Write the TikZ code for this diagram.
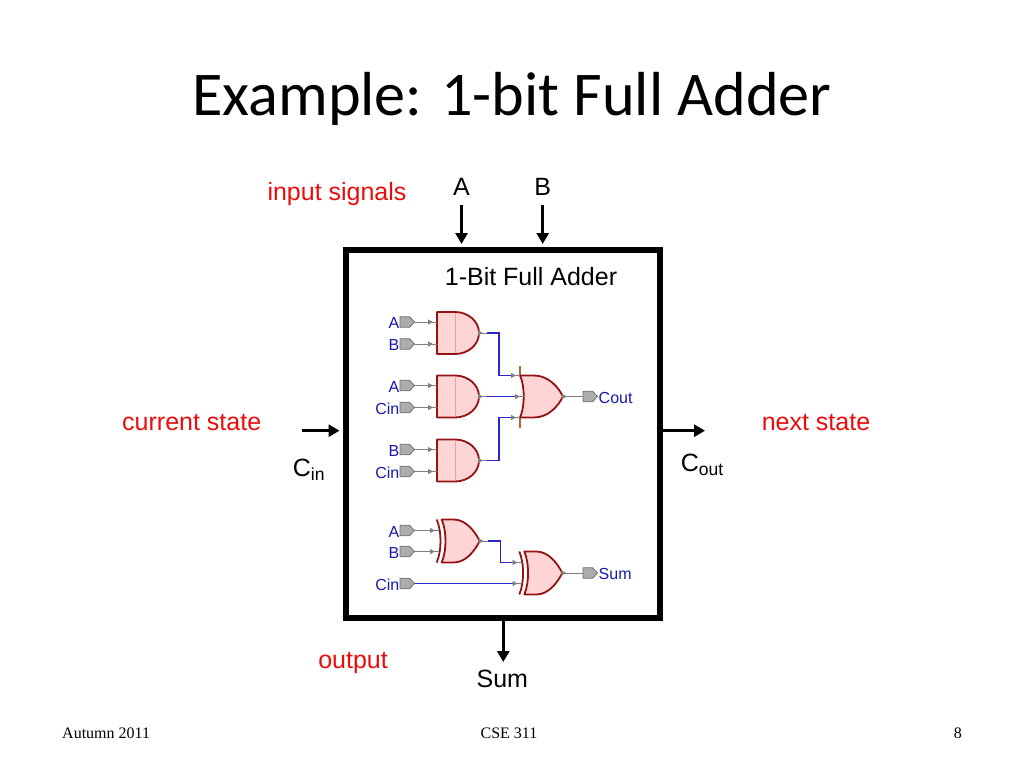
\documentclass[tikz,border=0pt]{standalone}
\usepackage{fontspec}
\setmainfont{Liberation Sans}
\newfontfamily\titlefont{Carlito}
\newfontfamily\footfont{Liberation Serif}
\usetikzlibrary{arrows.meta,calc,decorations.markings}
\definecolor{txtred}{RGB}{235,12,12}
\definecolor{txtblue}{RGB}{25,25,170}
\definecolor{wireblue}{RGB}{40,40,200}
\definecolor{wiregray}{RGB}{128,128,128}
\definecolor{gatefill}{RGB}{255,212,212}
\definecolor{gateline}{RGB}{150,18,18}
\definecolor{divcol}{RGB}{215,170,170}
\definecolor{barcol}{RGB}{180,100,45}
\definecolor{pinfill}{RGB}{172,172,172}
\definecolor{pinline}{RGB}{115,115,115}
\tikzset{
  lbl/.style={font=\fontsize{25}{30}\selectfont, inner sep=0pt},
  redlbl/.style={lbl, text=txtred},
  gl/.style={font=\fontsize{16}{19}\selectfont, text=txtblue, inner sep=0pt},
  foot/.style={font=\footfont\fontsize{16}{19}\selectfont, inner sep=0pt},
  bigarrow/.style={line width=3pt, -{Triangle[length=11pt,width=12pt]}},
  gatebody/.style={draw=gateline, fill=gatefill, line width=1.8pt, line join=round},
  gateonly/.style={draw=gateline, line width=1.8pt},
  divline/.style={draw=divcol, line width=0.6pt},
  barline/.style={draw=barcol, line width=1.6pt},
  pinstyle/.style={draw=pinline, fill=pinfill, line width=0.8pt, line join=round},
  bwire/.style={draw=wireblue, line width=1.1pt},
  gwire/.style={draw=wiregray, line width=1pt},
  inwire/.style={gwire, postaction={decorate},
    decoration={markings, mark=at position -4pt with {\arrow{Triangle[length=5pt,width=5pt]}}}},
  pics/andgate/.style={code={
    \path[gatebody] (0,-21) -- (18,-21) .. controls (31.3,-21) and (42,-11.6) .. (42,0)
      .. controls (42,11.6) and (31.3,21) .. (18,21) -- (0,21) -- cycle;
    \draw[divline] (18,-20) -- (18,20);
    \coordinate (-in1) at (0,-11);
    \coordinate (-in2) at (0,11);
    \coordinate (-out) at (42,0);
  }},
  pics/orgate/.style={code={
    \draw[barline] (0,-31) -- (0,-21) (0,21) -- (0,31);
    \path[gatebody] (0,-21) -- (14,-21) .. controls (28,-21) and (38,-10) .. (43,0)
      .. controls (38,10) and (28,21) .. (14,21) -- (0,21)
      .. controls (5,10) and (5,-10) .. (0,-21) -- cycle;
    \coordinate (-in1) at (0,-21);
    \coordinate (-in2) at (3.75,0);
    \coordinate (-in3) at (0,21);
    \coordinate (-out) at (43,0);
  }},
  pics/xorgate/.style={code={
    \draw[gateonly] (0,-21.5) .. controls (5,-10) and (5,10) .. (0,21.5);
    \path[gatebody] (5,-21.5) -- (17,-21.5) .. controls (29,-21.5) and (38,-10) .. (43,0)
      .. controls (38,10) and (29,21.5) .. (17,21.5) -- (5,21.5)
      .. controls (10,10) and (10,-10) .. (5,-21.5) -- cycle;
    \coordinate (-in1) at (2.3,-10.5);
    \coordinate (-in2) at (2.3,10.5);
    \coordinate (-out) at (43,0);
  }},
  pics/pin/.style={code={
    \path[pinstyle] (0,-5.3) -- (9.5,-5.3) -- (14.5,0) -- (9.5,5.3) -- (0,5.3) -- cycle;
    \coordinate (-base) at (0,0);
    \coordinate (-tip) at (14.5,0);
  }},
}
\begin{document}
\begin{tikzpicture}[x=1pt,y=-1pt]
\useasboundingbox[fill=white] (0,0) rectangle (1024,768);

% title
\node[font=\titlefont\fontsize{62.2}{70}\selectfont, inner sep=0pt, anchor=base] (title) at (512,115) {Example: 1-bit Full Adder};

% big box
\node[draw, line width=6pt, minimum width=314.5pt, minimum height=368pt, inner sep=0pt] (box) at (502.75,434) {};
\node[lbl, anchor=base] (fatitle) at (531,285) {1-Bit Full Adder};

% outer labels
\node[redlbl, anchor=base] (insig) at (337,200) {input signals};
\node[lbl] (lblA) at (461.5,187) {A};
\node[lbl] (lblB) at (542.7,187) {B};
\node[redlbl, anchor=base] (curst) at (191.7,430) {current state};
\node[redlbl, anchor=base] (nextst) at (816,430) {next state};
\node[lbl, anchor=base west] (cinlbl) at (292.7,476) {C\textsubscript{in}};
\node[lbl, anchor=base west] (coutlbl) at (680.7,471.7) {C\textsubscript{out}};
\node[redlbl, anchor=base] (outlbl) at (353,668) {output};
\node[lbl, anchor=base] (sumlbl) at (502.3,687.3) {Sum};

% big arrows
\draw[bigarrow, shorten >=3pt] ($(lblA)+(0,18)$) -- (lblA |- box.north);
\draw[bigarrow, shorten >=3pt] ($(lblB)+(0,18)$) -- (lblB |- box.north);
\coordinate (cinstart) at (301.7,430.7);
\draw[bigarrow, shorten >=3pt] (cinstart) -- (cinstart -| box.west);
\coordinate (coutend) at (705,430.7);
\draw[bigarrow] (coutend -| box.east) -- (coutend);
\coordinate (sumend) at (503.3,662);
\draw[bigarrow] (sumend |- box.south) -- (sumend);

% gates
\pic (a1) at (437,333) {andgate};
\pic (a2) at (437,396.5) {andgate};
\pic (a3) at (437,460.5) {andgate};
\pic (o1) at (520,396.5) {orgate};
\pic (x1) at (436.7,541) {xorgate};
\pic (x2) at (519.3,573) {xorgate};

% input pins
\pic (p1) at (400,322) {pin};
\pic (p2) at (400,344) {pin};
\pic (p3) at (400,385.5) {pin};
\pic (p4) at (400,407.5) {pin};
\pic (p5) at (400,449.5) {pin};
\pic (p6) at (400,471.5) {pin};
\pic (p7) at (400,530.5) {pin};
\pic (p8) at (400,551.5) {pin};
\pic (p9) at (400,583.5) {pin};
\node[gl, anchor=east] (t1) at ($(p1-base)+(-0.5,1)$) {A};
\node[gl, anchor=east] (t2) at ($(p2-base)+(-0.5,1)$) {B};
\node[gl, anchor=east] (t3) at ($(p3-base)+(-0.5,1)$) {A};
\node[gl, anchor=east] (t4) at ($(p4-base)+(-0.5,1)$) {Cin};
\node[gl, anchor=east] (t5) at ($(p5-base)+(-0.5,1)$) {B};
\node[gl, anchor=east] (t6) at ($(p6-base)+(-0.5,1)$) {Cin};
\node[gl, anchor=east] (t7) at ($(p7-base)+(-0.5,1)$) {A};
\node[gl, anchor=east] (t8) at ($(p8-base)+(-0.5,1)$) {B};
\node[gl, anchor=east] (t9) at ($(p9-base)+(-0.5,1)$) {Cin};

% output pins
\pic (q1) at (583,396.5) {pin};
\pic (q2) at (583,573) {pin};
\node[gl, anchor=west] (u1) at ($(q1-tip)+(1,1)$) {Cout};
\node[gl, anchor=west] (u2) at ($(q2-tip)+(1,1)$) {Sum};

% pin to gate wires
\draw[inwire] (p1-tip) -- (a1-in1);
\draw[inwire] (p2-tip) -- (a1-in2);
\draw[inwire] (p3-tip) -- (a2-in1);
\draw[inwire] (p4-tip) -- (a2-in2);
\draw[inwire] (p5-tip) -- (a3-in1);
\draw[inwire] (p6-tip) -- (a3-in2);
\draw[inwire] (p7-tip) -- (x1-in1);
\draw[inwire] (p8-tip) -- (x1-in2);

% gate output stubs
\draw[inwire] (a1-out) -- ++(8,0);
\draw[inwire] (a2-out) -- ++(8,0);
\draw[inwire] (a3-out) -- ++(8,0);
\draw[inwire] (x1-out) -- ++(8,0);
\draw[inwire] (o1-out) -- ++(8,0);
\draw[inwire] (x2-out) -- ++(8,0);

% blue wires
\draw[bwire] ($(a1-out)+(8,0)$) -| ($(o1-in1)+(-21,0)$) -- ($(o1-in1)+(-8,0)$);
\draw[bwire] ($(a2-out)+(8,0)$) -- ($(o1-in2)+(-8,0)$);
\draw[bwire] ($(a3-out)+(8,0)$) -| ($(o1-in3)+(-21,0)$) -- ($(o1-in3)+(-8,0)$);
\draw[bwire] ($(x1-out)+(8,0)$) -| ($(x2-in1)+(-21.5,0)$) -- ($(x2-in1)+(-8,0)$);
\draw[bwire] (p9-tip) -- ($(x2-in2)+(-8,0)$);

% gate input arrows
\draw[inwire] ($(o1-in1)+(-8,0)$) -- (o1-in1);
\draw[inwire] ($(o1-in2)+(-8,0)$) -- (o1-in2);
\draw[inwire] ($(o1-in3)+(-8,0)$) -- (o1-in3);
\draw[inwire] ($(x2-in1)+(-8,0)$) -- (x2-in1);
\draw[inwire] ($(x2-in2)+(-8,0)$) -- (x2-in2);

% outputs to pins
\draw[gwire] ($(o1-out)+(8,0)$) -- (q1-base);
\draw[gwire] ($(x2-out)+(8,0)$) -- (q2-base);

% footer
\node[foot, anchor=base west] (ft1) at (62,738) {Autumn 2011};
\node[foot, anchor=base] (ft2) at (509,738) {CSE 311};
\node[foot, anchor=base east] (ft3) at (962,738) {8};
\end{tikzpicture}
\end{document}
